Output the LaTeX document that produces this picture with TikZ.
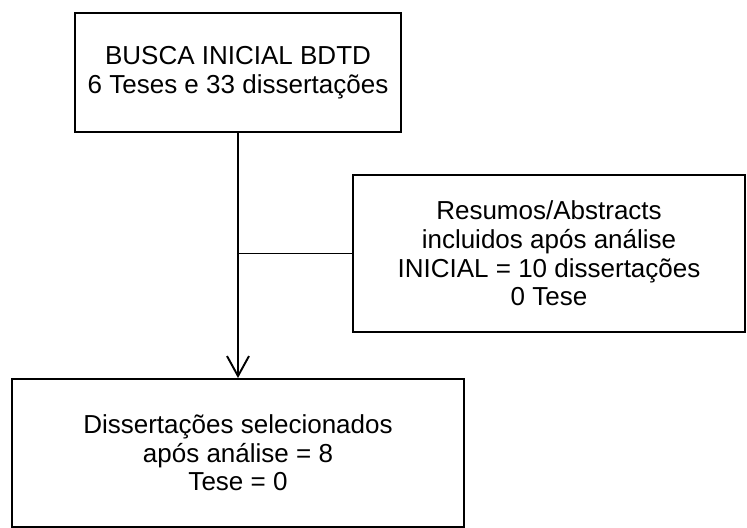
\documentclass[tikz,border=0pt]{standalone}
\usepackage{fontspec}
\setmainfont{Liberation Sans}
\usetikzlibrary{arrows.meta}

\begin{document}
\begin{tikzpicture}[every node/.style={font=\fontsize{14.8}{16.3}\selectfont},
  caixa/.style={draw,line width=1.1pt,align=center,inner sep=0pt},
  seta/.style={line width=1.1pt,-{Straight Barb[length=0.4cm,width=0.44cm,line width=1.1pt]}}]
  \useasboundingbox (0,0) rectangle (14.94,-10.56);
  \node[caixa,minimum width=6.52cm,minimum height=2.38cm] (busca) at (4.76,-1.45) {BUSCA INICIAL BDTD\\6 Teses e 33 dissertações};
  \node[caixa,minimum width=7.84cm,minimum height=3.14cm] (resumos) at (10.98,-5.07) {Resumos/Abstracts\\incluidos após análise\\INICIAL = 10 dissertações\\0 Tese};
  \node[caixa,minimum width=9.04cm,minimum height=2.96cm] (selec) at (4.76,-9.06) {Dissertações selecionados\\após análise = 8\\Tese = 0};
  \coordinate (juncao) at (busca.south |- resumos.west);
  \draw[seta] (busca.south) -- (busca.south |- selec.north);
  \draw[line width=1.1pt] (juncao) -- (resumos.west);
 \end{tikzpicture}
\end{document}
